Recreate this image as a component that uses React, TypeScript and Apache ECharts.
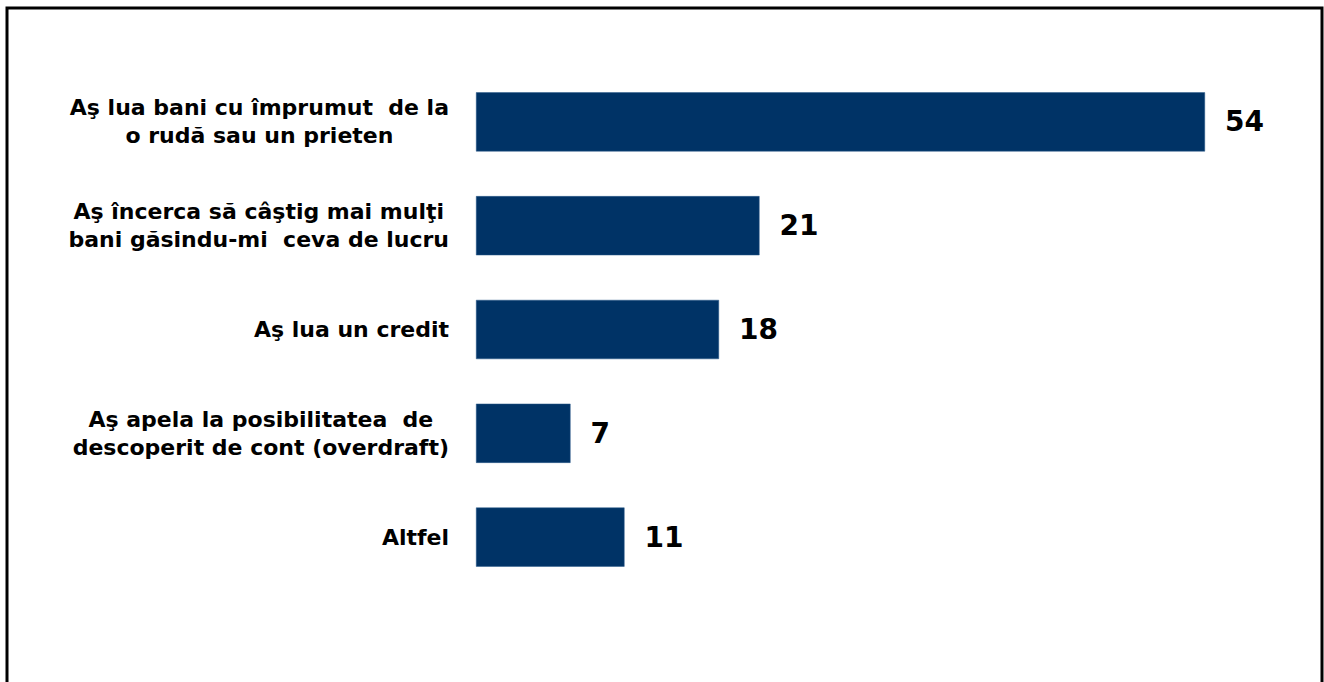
import React, { useEffect, useRef } from "react";
import * as echarts from "echarts";

const categories = [
  "Aş lua bani cu împrumut  de la\no rudă sau un prieten",
  "Aş încerca să câştig mai mulţi\nbani găsindu-mi  ceva de lucru",
  "Aş lua un credit",
  "Aş apela la posibilitatea  de\ndescoperit de cont (overdraft)",
  "Altfel",
];
const values = [54, 21, 18, 7, 11];

export default function App() {
  const ref = useRef<HTMLDivElement>(null);
  useEffect(() => {
    if (!ref.current) return;
    const chart = echarts.init(ref.current, null, { renderer: "svg" });
    chart.setOption({
      animation: false,
      backgroundColor: "#ffffff",
      grid: { left: 476, top: 70, bottom: 682 - 589, width: 810, containLabel: false },
      xAxis: {
        type: "value",
        min: 0,
        max: 60,
        show: false,
      },
      yAxis: {
        type: "category",
        inverse: true,
        data: categories,
        axisLine: { show: false },
        axisTick: { show: false },
        splitLine: { show: false },
        axisLabel: {
          margin: 27,
          align: "right",
          formatter: (v: string) => v.split("\n").map((l) => `{c|${l}}`).join("\n"),
          rich: {
            c: {
              align: "center",
              fontFamily: "DejaVu Sans",
              fontWeight: "bold",
              fontSize: 22,
              color: "#000000",
              lineHeight: 28,
            },
          },
        },
      },
      series: [
        {
          type: "bar",
          data: values,
          barCategoryGap: "43%",
          itemStyle: { color: "#003366", borderColor: "#2a5a8a", borderWidth: 0.5 },
          label: {
            show: true,
            position: "right",
            distance: 20,
            fontFamily: "DejaVu Sans",
            fontWeight: "bold",
            fontSize: 28,
            color: "#000000",
          },
        },
      ],
      graphic: [
        {
          type: "rect",
          shape: { x: 7, y: 8, width: 1315, height: 720 },
          style: { fill: "none", stroke: "#000000", lineWidth: 3 },
          silent: true,
        },
      ],
    });
    return () => chart.dispose();
  }, []);
  return (
    <div
      ref={ref}
      style={{ position: "fixed", left: 0, top: 0, width: 1324, height: 682 }}
    />
  );
}
